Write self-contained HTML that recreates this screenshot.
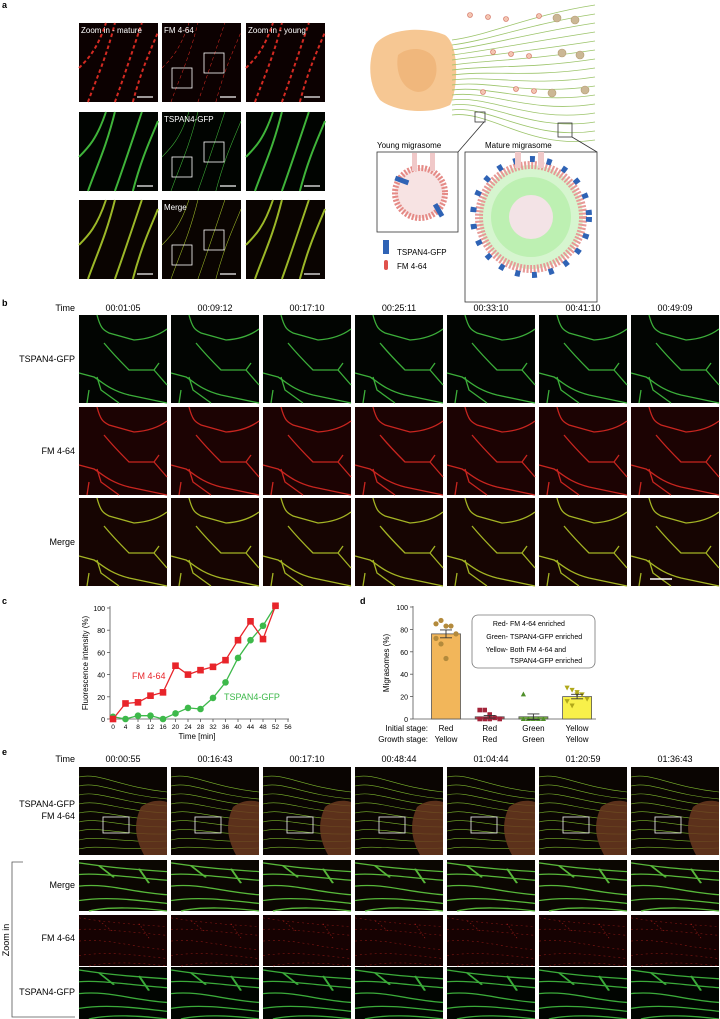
<!DOCTYPE html>
<html><head><meta charset="utf-8"><style>
html,body{margin:0;padding:0;background:#fff;}
svg{display:block;font-family:"Liberation Sans",sans-serif;}
</style></head><body>
<svg id="fig" width="720" height="1019" viewBox="0 0 720 1019" xmlns="http://www.w3.org/2000/svg">
<g id="panelA">
<text x="2" y="8" font-size="9" font-weight="bold">a</text>
</g>
<g id="schem">
<path d="M375,45 C385,30 420,25 445,35 C460,45 458,90 450,105 C430,115 395,112 380,100 C368,85 368,60 375,45Z" fill="#f6c793"/>
<path d="M398,55 C410,45 430,48 435,60 C440,75 432,92 418,92 C402,90 395,72 398,55Z" fill="#f0b77c"/>
<g id="fibers" stroke="#9cc46a" stroke-width="0.8" fill="none"></g>
<rect x="475" y="112" width="10" height="10" fill="none" stroke="#333" stroke-width="0.8"/>
<rect x="558" y="123" width="14" height="14" fill="none" stroke="#333" stroke-width="0.8"/>
<line x1="484" y1="122" x2="458" y2="152" stroke="#333" stroke-width="0.8"/>
<line x1="572" y1="137" x2="597" y2="152" stroke="#333" stroke-width="0.8"/>
<text x="377" y="148" font-size="8">Young migrasome</text>
<text x="485" y="148" font-size="8">Mature migrasome</text>
<rect x="377" y="152" width="81" height="80" fill="#fff" stroke="#333" stroke-width="0.8"/>
<circle cx="420" cy="193" r="25" fill="#f7e3e3" stroke="#e58a86" stroke-width="6" stroke-dasharray="2 1.5"/>
<rect x="412" y="153" width="5" height="18" fill="#f0c8c8"/><rect x="430" y="153" width="5" height="18" fill="#f0c8c8"/>
<rect x="395" y="178" width="14" height="5" fill="#2f63b5" transform="rotate(20 402 180)"/>
<rect x="432" y="208" width="14" height="5" fill="#2f63b5" transform="rotate(60 439 210)"/>
<rect x="465" y="152" width="132" height="150" fill="#fff" stroke="#333" stroke-width="0.8"/>
<circle cx="531" cy="217" r="52" fill="#d6f5cf" stroke="#e79a96" stroke-width="8" stroke-dasharray="2 1.5"/>
<circle cx="531" cy="217" r="40" fill="#bdf0b2"/><circle cx="531" cy="217" r="22" fill="#f3e3e6"/>
<circle cx="531" cy="217" r="58" fill="none" stroke="#2f63b5" stroke-width="6" stroke-dasharray="5 12"/>
<rect x="515" y="152" width="6" height="16" fill="#f0c8c8"/><rect x="538" y="152" width="6" height="16" fill="#f0c8c8"/>
<rect x="383" y="240" width="6" height="14" fill="#2f63b5"/>
<text x="397" y="255" font-size="8">TSPAN4-GFP</text>
<rect x="384" y="260" width="4" height="10" rx="2" fill="#e0524c"/>
<text x="397" y="269" font-size="8">FM 4-64</text>
</g>
<g id="panelB">
<text x="2" y="306" font-size="9" font-weight="bold">b</text>
<text x="75" y="311" font-size="9" text-anchor="end">Time</text>
</g>
<g id="panelC"></g>
<g id="panelD"></g>
<g id="panelE">
<text x="2" y="755" font-size="9" font-weight="bold">e</text>
<text x="75" y="762" font-size="9" text-anchor="end">Time</text>
<path d="M23,862 L12,862 L12,1017 L75,1017" fill="none" stroke="#555" stroke-width="0.8"/>
<text x="0" y="0" font-size="9" transform="translate(9,940) rotate(-90)" text-anchor="middle">Zoom in</text>
</g>
</svg>
<script>
// ---------- chart c data ----------
const timeMin = [0,4,8,12,16,20,24,28,32,36,40,44,48,52];
const fmValues = [0,14,15,21,24,48,40,44,47,53,71,88,72,102];
const tspanValues = [2,0,3,3,0,5,10,9,19,33,55,71,84,102];
const cXTicks = [0,4,8,12,16,20,24,28,32,36,40,44,48,52,56];
const cYTicks = [0,20,40,60,80,100];
// ---------- chart d data ----------
const dCategories = ["Red/Yellow","Red/Red","Green/Green","Yellow/Yellow"];
const dInitial = ["Red","Red","Green","Yellow"];
const dGrowth = ["Yellow","Red","Green","Yellow"];
const dMeans = [76,2,2,20];
const dErrors = [3.5,1.2,2.5,2];
const dPointsRed = [85,88,83,83,76,72,67,54];
const dPointsRedRed = [8,8,4,1,0,0,0,0];
const dPointsGreen = [22,0,0,0,0,0,0,0];
const dPointsYellow = [28,26,24,22,18,16,12,22];
const dYTicks = [0,20,40,60,80,100];
const bTimes = ["00:01:05","00:09:12","00:17:10","00:25:11","00:33:10","00:41:10","00:49:09"];
const eTimes = ["00:00:55","00:16:43","00:17:10","00:48:44","01:04:44","01:20:59","01:36:43"];

const NS="http://www.w3.org/2000/svg";
function mk(parent,tag,attrs,text){const e=document.createElementNS(NS,tag);for(const k in attrs)e.setAttribute(k,attrs[k]);if(text!==undefined)e.textContent=text;parent.appendChild(e);return e;}

const pathsB=["M18,0 C22,15 25,15 30,18 L55,25 C70,24 80,20 88,14","M25,28 C35,40 45,50 50,55 L75,55 L80,48","M75,55 L88,70","M0,58 L15,62 C22,66 30,75 50,80 L88,88","M18,62 L22,75 L40,88","M10,75 L8,88"];
function tile(parent,x,y,w,h,bg,col,paths,name,sw,dash){
  const g=mk(parent,'g',{transform:`translate(${x},${y})`});
  
  
  mk(g,'rect',{width:w,height:h,fill:bg});
  paths.forEach(p=>{const a={d:p,stroke:col,'stroke-width':sw||1.3,fill:'none',transform:`scale(${w/88},${h/88})`};if(dash)a['stroke-dasharray']=dash;mk(g,'path',a);});
  return g;
}
const A=document.getElementById('panelA');
const aCols=[79,162,246], aRows=[23,112,200];
const aBg=[["#0c0101","#0c0101","#0c0101"],["#010401","#010401","#010401"],["#0a0401","#0a0401","#0a0401"]];
const aCol=["#d42a22","#3fb43a","#9cb828"];
const aPaths=["M10,88 C20,60 30,40 40,0","M40,88 C50,60 60,30 70,0","M60,88 C70,50 80,30 88,10","M0,50 C10,40 20,30 30,0"];
const aLabels=[["Zoom in - mature","FM 4-64","Zoom in - young"],["","TSPAN4-GFP",""],["","Merge",""]];
for(let r=0;r<3;r++)for(let c=0;c<3;c++){
  tile(A,aCols[c],aRows[r],79,79,aBg[r][c],aCol[r],aPaths,'a-image-r'+r+'c'+c,c==1?0.6:2.2,r==0?'4 3':null);
  if(aLabels[r][c]){const t=mk(A,'text',{x:aCols[c]+2,y:aRows[r]+10,'font-size':8,fill:'#fff'},aLabels[r][c]);
  
  }
  if(c==1){mk(A,'rect',{x:aCols[c]+10,y:aRows[r]+45,width:20,height:20,fill:'none',stroke:'#fff','stroke-width':0.8});
  mk(A,'rect',{x:aCols[c]+42,y:aRows[r]+30,width:20,height:20,fill:'none',stroke:'#fff','stroke-width':0.8});}
  mk(A,'line',{x1:aCols[c]+58,x2:aCols[c]+74,y1:aRows[r]+74,y2:aRows[r]+74,stroke:'#fff','stroke-width':1.2});
}
const F=document.getElementById('fibers');
for(let i=0;i<16;i++){const y0=40+i*5;const y1=5+i*9;
  mk(F,'path',{d:`M452,${y0} C490,${y0-5} 530,${y1+10} 595,${y1}`});
  const cx=470+(i*23)%120, cy=15+(i*37)%110;
  mk(document.getElementById('schem'),'circle',{cx:cx,cy:cy,r:cx>540?4:2.5,fill:cx>540?'#cbb795':'#f3c4b0',stroke:cx>540?'#b39b70':'#d06a5a','stroke-width':0.6});
}
const B=document.getElementById('panelB');
const cols=[79,171,263,355,447,539,631];
const bRows=[315,407,498], bRowNames=["TSPAN4-GFP","FM 4-64","Merge"];
const bBg=["#020502","#1c0303","#160502"], bCol=["#3cae3a","#c8251f","#a4b424"];
cols.forEach((x,i)=>{
  const t=mk(B,'text',{x:x+44,y:311,'font-size':9,'text-anchor':'middle'},bTimes[i]);
  
  
  bRows.forEach((y,r)=>tile(B,x,y,88,88,bBg[r],bCol[r],pathsB,'b-image-'+bRowNames[r].toLowerCase().replace(/[^a-z0-9]+/g,'-'),1.3));
});
bRows.forEach((y,r)=>{const t=mk(B,'text',{x:75,y:y+47,'font-size':9,'text-anchor':'end'},bRowNames[r]);
  
  });
mk(B,'line',{x1:650,x2:672,y1:579,y2:579,stroke:'#fff','stroke-width':1.5});

const C=document.getElementById('panelC');
const cx0=113,cx1=288,cy0=719,cy1=608;
const xs=v=>cx0+(v-0)/(56-0)*(cx1-cx0);
const ys=v=>cy0-(v/100)*(cy0-cy1);
let t=mk(C,'text',{x:2,y:604,'font-size':9,'font-weight':'bold'},'c');


mk(C,'line',{x1:110,x2:110,y1:606,y2:719,stroke:'#555','stroke-width':0.8});
mk(C,'line',{x1:110,x2:cx1+1,y1:719,y2:719,stroke:'#555','stroke-width':0.8});
cYTicks.forEach(v=>{mk(C,'line',{x1:107,x2:110,y1:ys(v),y2:ys(v),stroke:'#555','stroke-width':0.8});
  const l=mk(C,'text',{x:105,y:ys(v)+3,'font-size':7,'text-anchor':'end'},v);
  
  });
cXTicks.forEach(v=>{mk(C,'line',{x1:xs(v),x2:xs(v),y1:719,y2:722,stroke:'#555','stroke-width':0.8});
  const l=mk(C,'text',{x:xs(v),y:729,'font-size':6.5,'text-anchor':'middle'},v);
  
  });
t=mk(C,'text',{x:197,y:739,'font-size':8,'text-anchor':'middle'},'Time [min]');


t=mk(C,'text',{x:0,y:0,'font-size':8,'text-anchor':'middle',transform:'translate(88,663) rotate(-90)'},'Fluorescence intensity (%)');


let ln=mk(C,'polyline',{points:timeMin.map((x,i)=>xs(x)+','+ys(tspanValues[i])).join(' '),fill:'none',stroke:'#3db94a','stroke-width':1.3});


ln=mk(C,'polyline',{points:timeMin.map((x,i)=>xs(x)+','+ys(fmValues[i])).join(' '),fill:'none',stroke:'#e8242a','stroke-width':1.3});


timeMin.forEach((x,i)=>{
  const p=mk(C,'circle',{cx:xs(x),cy:ys(tspanValues[i]),r:3.3,fill:'#3db94a'});
  
  
  const q=mk(C,'rect',{x:xs(x)-3.3,y:ys(fmValues[i])-3.3,width:6.6,height:6.6,fill:'#e8242a'});
  
  
});
t=mk(C,'text',{x:132,y:679,'font-size':9,fill:'#e8242a'},'FM 4-64');


t=mk(C,'text',{x:224,y:700,'font-size':9,fill:'#3db94a'},'TSPAN4-GFP');



const D=document.getElementById('panelD');
const dy0=719,dy1=607;
const dys=v=>dy0-(v/100)*(dy0-dy1);
const dCenters=i=>446+i*43.7;
t=mk(D,'text',{x:360,y:604,'font-size':9,'font-weight':'bold'},'d');


mk(D,'line',{x1:413,x2:413,y1:606,y2:719,stroke:'#555','stroke-width':0.8});
mk(D,'line',{x1:413,x2:596,y1:719,y2:719,stroke:'#555','stroke-width':0.8});
dYTicks.forEach(v=>{mk(D,'line',{x1:410,x2:413,y1:dys(v),y2:dys(v),stroke:'#555','stroke-width':0.8});
  const l=mk(D,'text',{x:408,y:dys(v)+3,'font-size':7,'text-anchor':'end'},v);
  
  });
t=mk(D,'text',{x:0,y:0,'font-size':8,'text-anchor':'middle',transform:'translate(389,663) rotate(-90)'},'Migrasomes (%)');


const barFill=["#f2b65a","#c23a4a","#7cb342","#f8f04a"], ptFill=["#b38a3c","#a3243a","#4f8f2a","#b0a81a"];
const pts=[dPointsRed,dPointsRedRed,dPointsGreen,dPointsYellow];
dMeans.forEach((m,i)=>{
  const c=dCenters(i);
  const b=mk(D,'rect',{x:c-14.5,y:dys(m),width:29,height:dy0-dys(m),fill:barFill[i],stroke:'#555','stroke-width':0.8});
  
  
  pts[i].forEach((v,j)=>{
    const px=c-10+(j%5)*5;
    let p;
    if(i==0)p=mk(D,'circle',{cx:px,cy:dys(v),r:2.6,fill:ptFill[i]});
    else if(i==1)p=mk(D,'rect',{x:px-2.3,y:dys(v)-2.3,width:4.6,height:4.6,fill:ptFill[i]});
    else if(i==2)p=mk(D,'path',{d:`M${px},${dys(v)-2.8} L${px+2.6},${dys(v)+2} L${px-2.6},${dys(v)+2}Z`,fill:ptFill[i]});
    else p=mk(D,'path',{d:`M${px},${dys(v)+2.8} L${px+2.6},${dys(v)-2} L${px-2.6},${dys(v)-2}Z`,fill:ptFill[i]});
    
    
  });
  const e=dErrors[i];
  mk(D,'path',{d:`M${c},${dys(m-e)} V${dys(m+e)} M${c-6},${dys(m+e)} H${c+6} M${c-6},${dys(m-e)} H${c+6}`,stroke:'#333','stroke-width':0.9,fill:'none'});
  let l=mk(D,'text',{x:c,y:731,'font-size':8,'text-anchor':'middle'},dInitial[i]);
  
  
  l=mk(D,'text',{x:c,y:742,'font-size':8,'text-anchor':'middle'},dGrowth[i]);
  
  
});
t=mk(D,'text',{x:428,y:731,'font-size':8,'text-anchor':'end'},'Initial stage:');


t=mk(D,'text',{x:428,y:742,'font-size':8,'text-anchor':'end'},'Growth stage:');


const lg=mk(D,'g',{});


mk(lg,'rect',{x:472,y:615,width:123,height:53,rx:6,fill:'#fff',stroke:'#777','stroke-width':0.8});
[["Red-","FM 4-64 enriched",626],["Green-","TSPAN4-GFP enriched",639],["Yellow-","Both FM 4-64 and",652],["","TSPAN4-GFP enriched",663]].forEach(r=>{
  mk(lg,'text',{x:508,y:r[2],'font-size':7,'text-anchor':'end'},r[0]);
  mk(lg,'text',{x:510,y:r[2],'font-size':7},r[1]);
});

const E=document.getElementById('panelE');
const ePaths=[];
for(let k=0;k<9;k++)ePaths.push(`M0,${10+k*9} C20,${5+k*9} 40,${20+k*8} 88,${25+k*7}`);
const eZoom=["M0,5 C20,10 40,15 88,20","M0,25 C20,22 50,30 88,35","M0,45 C30,40 50,55 88,60","M0,70 C30,62 60,70 88,75","M10,88 C30,80 60,82 88,88","M20,10 L35,30","M60,15 L70,40"];
cols.forEach((x,i)=>{
  const tt=mk(E,'text',{x:x+44,y:762,'font-size':9,'text-anchor':'middle'},eTimes[i]);
  
  
  const g=tile(E,x,767,88,88,'#0a0502','#7cb62e',ePaths,'e-overview-image',0.6);
  mk(g,'path',{d:'M62,40 C75,30 88,35 88,35 L88,88 L65,88 C55,70 55,55 62,40Z',fill:'#6b3a20',opacity:0.85});
  mk(g,'rect',{x:24,y:50,width:26,height:16,fill:'none',stroke:'#ddd','stroke-width':0.9});
  tile(E,x,860,88,51,'#0b0702','#58b83a',eZoom,'e-zoom-merge',2.2);
  tile(E,x,915,88,51,'#160202','#9a1c18',eZoom,'e-zoom-fm',0.8,'2 3');
  tile(E,x,967,88,52,'#010501','#3bab3a',eZoom,'e-zoom-tspan4',2.2);
});
[["TSPAN4-GFP",807],["FM 4-64",819],["Merge",888],["FM 4-64",941],["TSPAN4-GFP",995]].forEach(r=>{
  const l=mk(E,'text',{x:75,y:r[1],'font-size':9,'text-anchor':'end'},r[0]);
  
  });
</script>
</body></html>
